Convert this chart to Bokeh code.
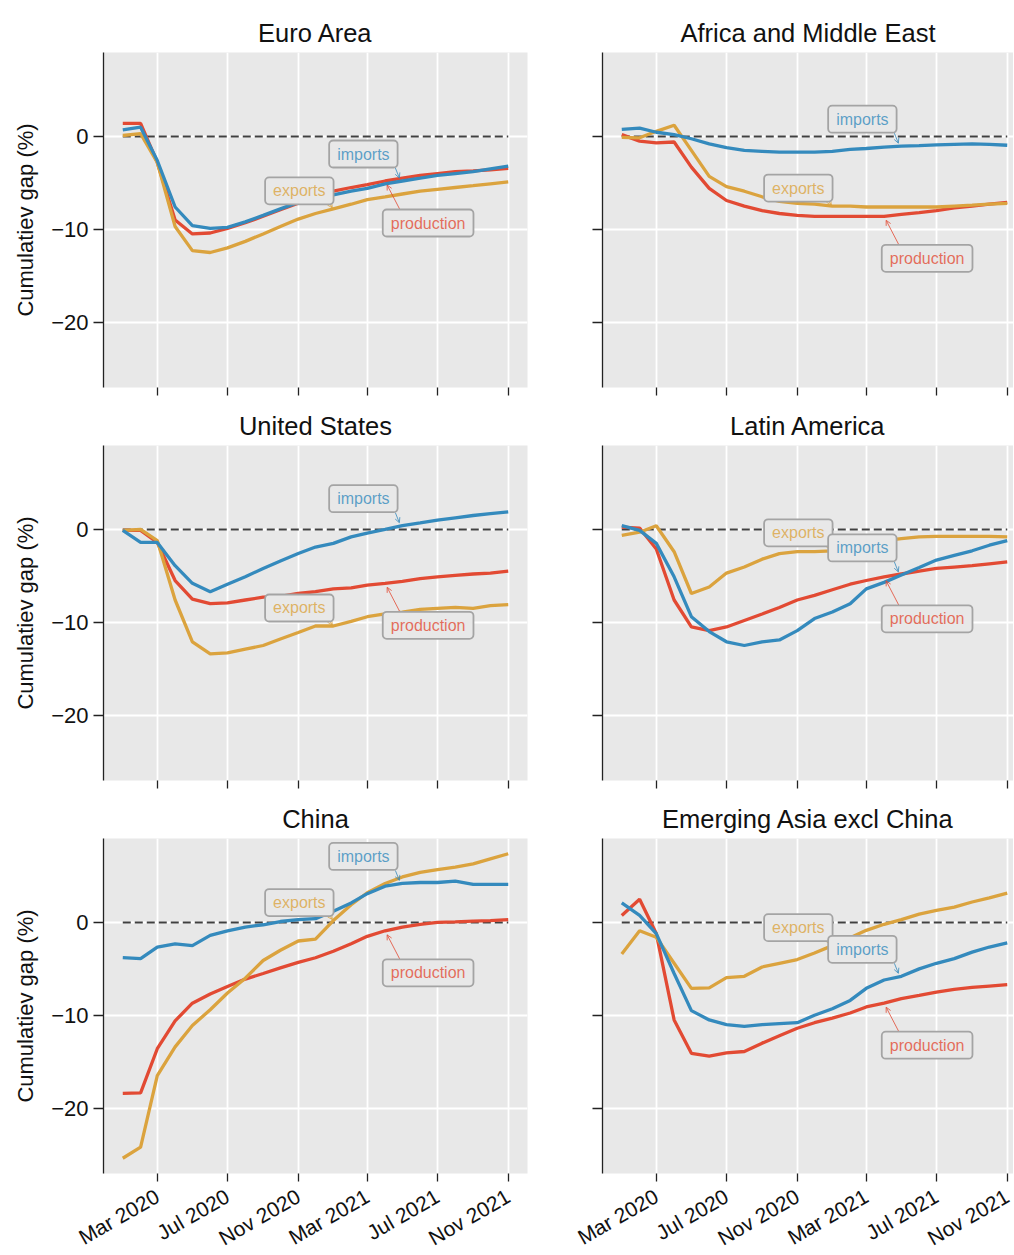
import numpy as np
import pandas as pd
from math import pi
from bokeh.plotting import figure
from bokeh.layouts import column, row
from bokeh.models import (FixedTicker, CustomJSTickFormatter, Range1d, Label,
                          Arrow, OpenHead)
from bokeh.embed import file_html
from bokeh.resources import INLINE

# ---------------- data ----------------
months = pd.date_range("2020-01-01", "2021-11-01", freq="MS")
tick_dates = ["2020-03-01", "2020-07-01", "2020-11-01", "2021-03-01", "2021-07-01", "2021-11-01"]
tick_labels = ["Mar 2020", "Jul 2020", "Nov 2020", "Mar 2021", "Jul 2021", "Nov 2021"]
y_ticks = [-20, -10, 0]

regions = ["Euro Area", "Africa and Middle East", "United States",
           "Latin America", "China", "Emerging Asia excl China"]
series_names = ["production", "exports", "imports"]

euro_production = [1.4, 1.4, -2.8, -9.0, -10.5, -10.4, -9.9, -9.3, -8.6, -7.9, -7.2, -6.4, -5.9,
                   -5.5, -5.2, -4.8, -4.5, -4.2, -4.0, -3.8, -3.7, -3.6, -3.45]
euro_exports = [0.1, 0.3, -2.8, -9.7, -12.3, -12.5, -12.0, -11.3, -10.5, -9.7, -8.9, -8.3, -7.8,
                -7.3, -6.8, -6.5, -6.2, -5.9, -5.7, -5.5, -5.3, -5.1, -4.9]
euro_imports = [0.7, 1.0, -2.6, -7.6, -9.6, -9.9, -9.8, -9.2, -8.5, -7.8, -7.1, -6.7, -6.3,
                -5.9, -5.6, -5.1, -4.8, -4.5, -4.2, -4.0, -3.8, -3.5, -3.2]

africa_production = [0.2, -0.5, -0.7, -0.6, -3.3, -5.6, -6.9, -7.5, -8.0, -8.3, -8.5, -8.6, -8.6,
                     -8.6, -8.6, -8.6, -8.4, -8.2, -8.0, -7.7, -7.5, -7.3, -7.1]
africa_exports = [-0.1, -0.15, 0.55, 1.2, -1.5, -4.3, -5.4, -5.9, -6.5, -7.0, -7.2, -7.3, -7.5,
                  -7.5, -7.6, -7.6, -7.6, -7.6, -7.6, -7.5, -7.4, -7.3, -7.2]
africa_imports = [0.75, 0.9, 0.45, 0.2, -0.25, -0.8, -1.2, -1.5, -1.6, -1.7, -1.7, -1.7, -1.6,
                  -1.4, -1.3, -1.15, -1.05, -1.0, -0.9, -0.85, -0.8, -0.85, -0.95]

us_production = [-0.1, -0.1, -1.4, -5.5, -7.5, -8.0, -7.9, -7.6, -7.3, -7.2, -6.9, -6.7, -6.4,
                 -6.3, -6.0, -5.8, -5.6, -5.3, -5.1, -4.95, -4.8, -4.7, -4.5]
us_exports = [-0.1, 0.0, -1.2, -7.6, -12.1, -13.4, -13.3, -12.9, -12.5, -11.8, -11.1, -10.4, -10.4,
              -9.9, -9.4, -9.1, -8.9, -8.6, -8.5, -8.4, -8.5, -8.2, -8.1]
us_imports = [-0.1, -1.4, -1.4, -3.9, -5.8, -6.7, -5.9, -5.1, -4.2, -3.4, -2.6, -1.9, -1.5,
              -0.8, -0.4, 0.0, 0.4, 0.7, 1.0, 1.25, 1.5, 1.7, 1.9]

latam_production = [0.25, 0.15, -2.1, -7.6, -10.5, -10.9, -10.5, -9.8, -9.1, -8.4, -7.6, -7.1, -6.5,
                    -5.9, -5.5, -5.1, -4.8, -4.5, -4.2, -4.05, -3.9, -3.7, -3.5]
latam_exports = [-0.65, -0.3, 0.4, -2.4, -6.9, -6.2, -4.7, -4.05, -3.2, -2.6, -2.4, -2.4, -2.3,
                 -1.9, -1.5, -1.2, -1.0, -0.8, -0.75, -0.75, -0.75, -0.75, -0.8]
latam_imports = [0.4, -0.1, -1.5, -5.1, -9.4, -11.0, -12.1, -12.5, -12.1, -11.9, -10.9, -9.6, -8.9,
                 -8.0, -6.4, -5.7, -4.9, -4.1, -3.3, -2.8, -2.3, -1.7, -1.2]

china_production = [-18.4, -18.35, -13.6, -10.6, -8.7, -7.7, -6.9, -6.1, -5.5, -4.9, -4.3, -3.8, -3.1,
                    -2.3, -1.5, -0.9, -0.5, -0.2, 0.0, 0.05, 0.15, 0.2, 0.3]
china_exports = [-25.4, -24.2, -16.5, -13.4, -11.1, -9.4, -7.6, -6.0, -4.1, -3.0, -2.0, -1.8, 0.2,
                 1.9, 3.2, 4.2, 4.9, 5.4, 5.7, 5.95, 6.3, 6.85, 7.4]
china_imports = [-3.8, -3.9, -2.65, -2.3, -2.5, -1.4, -0.9, -0.5, -0.25, 0.1, 0.3, 0.4, 1.2,
                 2.1, 3.1, 3.9, 4.2, 4.3, 4.3, 4.45, 4.1, 4.1, 4.1]

easia_production = [0.75, 2.5, -1.2, -10.5, -14.1, -14.4, -14.05, -13.9, -13.0, -12.2, -11.4, -10.8, -10.3,
                    -9.75, -9.1, -8.7, -8.2, -7.85, -7.5, -7.2, -7.0, -6.85, -6.7]
easia_exports = [-3.4, -0.9, -1.6, -4.4, -7.1, -7.05, -5.95, -5.8, -4.8, -4.4, -4.0, -3.3, -2.5,
                 -1.65, -0.85, -0.2, 0.3, 0.9, 1.3, 1.65, 2.2, 2.65, 3.15]
easia_imports = [2.1, 0.75, -1.2, -5.5, -9.5, -10.5, -11.0, -11.2, -11.0, -10.9, -10.8, -10.0, -9.3,
                 -8.4, -7.1, -6.2, -5.8, -5.0, -4.4, -3.9, -3.2, -2.65, -2.2]

panel_data = [
    (euro_production, euro_exports, euro_imports),
    (africa_production, africa_exports, africa_imports),
    (us_production, us_exports, us_imports),
    (latam_production, latam_exports, latam_imports),
    (china_production, china_exports, china_imports),
    (easia_production, easia_exports, easia_imports),
]

# ---------------- styles ----------------
FONT = "Liberation Sans"
COLORS = {"production": "#E24A33", "exports": "#DBA33E", "imports": "#348ABD"}
BG = "#E8E8E8"
FH = 335           # frame height
FW_LEFT = 424      # left frame width
FW_RIGHT = 411     # right frame width (cropped at the page edge, same scale)
# label style: anchor month index, text offset (px, y up), arrow start/end offsets (px)
LABEL_STYLE = {
    "imports": dict(anchor=16, dx=-39, dy=27, a0=(-7, 13), a1=(-3, 3)),
    "production": dict(anchor=15, dx=43, dy=-42, a0=(15, -29), a1=(2, -4)),
    "exports": dict(anchor=12, dx=-34, dy=18, a0=(-5, 7), a1=(-1, 1)),
}

x_ms = months.values.astype("datetime64[ms]").astype("int64").astype(float)
tick_ms = [float(v) for v in pd.to_datetime(tick_dates).values.astype("datetime64[ms]").astype("int64")]
span = x_ms[-1] - x_ms[0]
x0 = x_ms[0] - 0.05 * span

all_vals = np.concatenate([np.array(s, dtype=float) for trip in panel_data for s in trip])
ymin, ymax = all_vals.min(), all_vals.max()
yspan = ymax - ymin
y0, y1 = ymin - 0.05 * yspan, ymax + 0.05 * yspan

label_fmt = CustomJSTickFormatter(args=dict(tvals=tick_ms, tlabels=tick_labels), code="""
let best = 0;
for (let i = 0; i < tvals.length; i++) {
  if (Math.abs(tvals[i] - tick) < Math.abs(tvals[best] - tick)) best = i;
}
return tlabels[best];
""")
empty_fmt = CustomJSTickFormatter(code="return '';")


def make_fig(idx):
    r, c = divmod(idx, 2)
    left = (c == 0)
    top = (r == 0)
    bottom = (r == 2)
    fw = FW_LEFT if left else FW_RIGHT
    x1 = x0 + 1.1 * span * fw / FW_LEFT
    p = figure(frame_width=fw, frame_height=FH,
               x_range=Range1d(x0, x1), y_range=Range1d(y0, y1),
               output_backend="svg", toolbar_location=None,
               min_border_left=103 if left else 65,
               min_border_right=10 if left else 0,
               min_border_top=52 if top else 44,
               min_border_bottom=0 if bottom else 14)
    p.title.text = regions[idx]
    p.title.text_font = FONT
    p.title.text_font_size = "25.5px"
    p.title.text_font_style = "normal"
    p.title.text_color = "#111111"
    p.title.align = "center"
    p.title.standoff = 12
    p.background_fill_color = BG
    p.border_fill_color = "white"
    p.outline_line_color = None

    # grid
    p.xgrid.ticker = FixedTicker(ticks=tick_ms)
    p.ygrid.ticker = FixedTicker(ticks=y_ticks)
    for g in (p.xgrid, p.ygrid):
        g.grid_line_color = "white"
        g.grid_line_width = 1.8

    # y axis
    ya = p.yaxis[0]
    ya.ticker = FixedTicker(ticks=y_ticks)
    ya.axis_line_color = "#222222"
    ya.axis_line_width = 1.3
    ya.major_tick_line_color = "#222222"
    ya.major_tick_line_width = 1.3
    ya.major_tick_out = 10
    ya.major_tick_in = 0
    ya.minor_tick_line_color = None
    ya.major_label_text_font = FONT
    ya.major_label_text_font_size = "22px"
    ya.major_label_text_color = "#111111"
    if left:
        ya.axis_label = "Cumulatiev gap (%)"
        ya.axis_label_text_font = FONT
        ya.axis_label_text_font_size = "22px"
        ya.axis_label_text_font_style = "normal"
        ya.axis_label_text_color = "#111111"
        ya.axis_label_standoff = 10
    else:
        ya.formatter = empty_fmt
        ya.major_label_text_font_size = "0px"
        ya.major_label_standoff = 0

    # x axis
    xa = p.xaxis[0]
    xa.ticker = FixedTicker(ticks=tick_ms)
    xa.axis_line_color = None
    xa.major_tick_line_color = "#222222"
    xa.major_tick_line_width = 1.3
    xa.major_tick_out = 8
    xa.major_tick_in = 0
    xa.minor_tick_line_color = None
    xa.major_label_text_font = FONT
    xa.major_label_text_color = "#111111"
    if bottom:
        xa.formatter = label_fmt
        xa.major_label_text_font_size = "21px"
        xa.major_label_orientation = pi / 6
        xa.major_label_standoff = 13
    else:
        xa.formatter = empty_fmt
        xa.major_label_text_font_size = "0px"
        xa.major_label_standoff = 0

    # zero reference line over the data span
    p.line(x=[x_ms[0], x_ms[-1]], y=[0, 0], line_color="#404040",
           line_width=2, line_dash="8 4")

    prod, exp, imp = panel_data[idx]
    vals = {"production": prod, "exports": exp, "imports": imp}
    for name in ["production", "exports", "imports"]:
        p.line(x=x_ms, y=vals[name], line_color=COLORS[name], line_width=3.3)

    # annotations
    px_per_x = fw / (x1 - x0)
    px_per_y = FH / (y1 - y0)
    for name in ["exports", "imports", "production"]:
        st = LABEL_STYLE[name]
        xa_ = float(x_ms[st["anchor"]])
        ya_ = float(vals[name][st["anchor"]])
        (sx, sy), (ex, ey) = st["a0"], st["a1"]
        p.add_layout(Arrow(end=OpenHead(size=5, line_color=COLORS[name], line_width=1, line_alpha=0.8),
                           x_start=xa_ + sx / px_per_x, y_start=ya_ + sy / px_per_y,
                           x_end=xa_ + ex / px_per_x, y_end=ya_ + ey / px_per_y,
                           line_color=COLORS[name], line_width=1, line_alpha=0.8))
        p.add_layout(Label(x=xa_, y=ya_, x_offset=st["dx"], y_offset=st["dy"], text=name,
                           text_align="center", text_baseline="middle",
                           text_font=FONT, text_font_size="16px",
                           text_color=COLORS[name], text_alpha=0.78,
                           background_fill_color=BG, background_fill_alpha=1.0,
                           border_line_color="#a4a4a4", border_line_width=1.8,
                           border_radius=4, padding=(8, 5)))
    return p


figs = [make_fig(i) for i in range(6)]
layout = column(row(figs[0], figs[1]), row(figs[2], figs[3]), row(figs[4], figs[5]))

open("out.html", "w").write(file_html(layout, INLINE))
